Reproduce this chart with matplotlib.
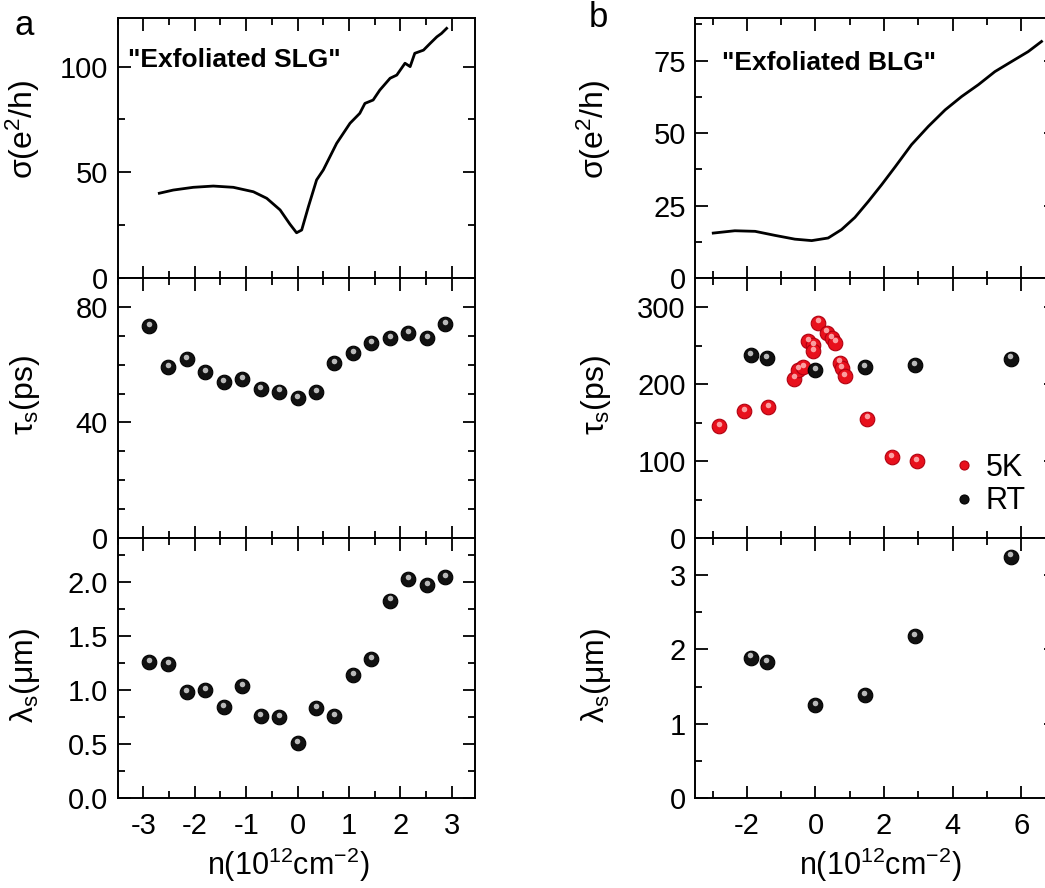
import numpy as np
import matplotlib
matplotlib.use('Agg')
import matplotlib.pyplot as plt
from matplotlib.ticker import MultipleLocator
from matplotlib.transforms import offset_copy

plt.rcParams['font.family'] = ['Liberation Sans', 'DejaVu Sans']
plt.rcParams['mathtext.fontset'] = 'custom'
plt.rcParams['mathtext.rm'] = 'Liberation Sans'
plt.rcParams['mathtext.it'] = 'Liberation Sans:italic'
plt.rcParams['axes.unicode_minus'] = False

# panel a: exfoliated SLG
slg_n = [-2.69, -2.42, -2.03, -1.64, -1.25, -0.86, -0.60, -0.34, -0.15, -0.02, 0.08, 0.21,
         0.37, 0.50, 0.76, 1.02, 1.21, 1.31, 1.47, 1.60, 1.80, 1.93, 2.09, 2.19, 2.28,
         2.45, 2.58, 2.71, 2.80, 2.90]
slg_sigma = [40.1, 41.6, 42.9, 43.5, 42.9, 40.8, 37.7, 32.2, 25.5, 21.4, 22.7, 33.7,
             46.4, 51.1, 63.7, 73.2, 77.9, 82.6, 84.2, 88.9, 94.5, 96.0, 101.6, 100.0, 106.3,
             107.8, 111.0, 114.1, 115.7, 118.1]
slg_pts_n = [-2.89, -2.52, -2.16, -1.80, -1.44, -1.08, -0.72, -0.36, 0.0, 0.36, 0.71,
             1.08, 1.43, 1.80, 2.15, 2.52, 2.87]
slg_tau = [73.4, 59.2, 61.9, 57.4, 53.9, 55.0, 51.6, 50.7, 48.4, 50.4, 60.6,
           64.0, 67.5, 69.2, 70.9, 69.2, 74.0]
slg_lam = [1.26, 1.24, 0.98, 1.00, 0.84, 1.04, 0.76, 0.75, 0.51, 0.83, 0.76,
           1.14, 1.29, 1.83, 2.03, 1.97, 2.05]

# panel b: exfoliated BLG
blg_n = [-2.98, -2.35, -1.76, -1.18, -0.60, -0.11, 0.37, 0.76, 1.15, 1.54, 1.93, 2.32,
         2.80, 3.29, 3.78, 4.26, 4.75, 5.23, 5.72, 6.20, 6.59]
blg_sigma = [15.5, 16.3, 16.1, 14.7, 13.4, 12.9, 13.8, 16.7, 20.9, 26.4, 32.2, 38.3,
             46.0, 52.3, 58.0, 62.6, 66.7, 71.2, 74.7, 78.1, 81.6]
k5_n = [-2.80, -2.08, -1.38, -0.62, -0.50, -0.36, -0.21, -0.06, -0.06, 0.08, 0.33,
        0.47, 0.57, 0.71, 0.76, 0.86, 1.51, 2.22, 2.95]
k5_tau = [145, 165, 170, 207, 219, 222, 256, 251, 243, 280, 267,
          260, 254, 228, 221, 210, 155, 105, 100]
rt_n = [-1.88, -1.42, 0.0, 1.44, 2.90, 5.69]
rt_tau = [238, 234, 218, 222, 225, 233]
rt_lam = [1.89, 1.83, 1.25, 1.38, 2.18, 3.25]

W, H = 1045, 888
fig = plt.figure(figsize=(W / 100, H / 100), dpi=100)


def box(x0, x1, y0, y1):
    return [x0 / W, 1 - y1 / H, (x1 - x0) / W, (y1 - y0) / H]


tops = [18, 278, 538, 798]
axa = [fig.add_axes(box(117.7, 474.9, tops[i], tops[i + 1])) for i in range(3)]
axb = [fig.add_axes(box(695.4, 1055.6, tops[i], tops[i + 1])) for i in range(3)]


def balls(ax, x, y, face, hi, edge, ms=10.5, label=None):
    ax.plot(x, y, 'o', ms=ms, mfc=face, mec=edge, mew=0.8, label=label, zorder=3)
    tr = offset_copy(ax.transData, fig=fig, x=-0.5, y=2.3, units='dots')
    ax.plot(x, y, 'o', ms=ms * 0.38, mfc=hi, mec='none', alpha=0.85,
            transform=tr, zorder=4)


def style(ax, xmaj, xmin, ymaj, ymin, bottom):
    ax.xaxis.set_major_locator(MultipleLocator(xmaj))
    ax.xaxis.set_minor_locator(MultipleLocator(xmin))
    ax.yaxis.set_major_locator(MultipleLocator(ymaj))
    ax.yaxis.set_minor_locator(MultipleLocator(ymin))
    ax.tick_params(which='both', direction='in', top=True, right=True, width=1.3,
                   labelsize=21, labelbottom=bottom)
    ax.tick_params(which='major', length=9)
    ax.tick_params(which='minor', length=5)
    ax.tick_params(axis='y', pad=7)
    ax.tick_params(axis='x', pad=10)
    for s in ax.spines.values():
        s.set_linewidth(1.4)


xlab = r'n(10$^\mathregular{12}$cm$^\mathregular{-2}$)'

# ---- panel a ----
a0, a1, a2 = axa
a0.plot(slg_n, slg_sigma, color='black', lw=2)
a0.set_ylim(0, 123)
a0.text(0.03, 0.81, '"Exfoliated SLG"', transform=a0.transAxes, fontsize=19,
        fontweight='bold', va='baseline')
a0.set_ylabel(r'σ(e$^\mathregular{2}$/h)', fontsize=23)
style(a0, 1, 0.5, 50, 25, False)

balls(a1, slg_pts_n, slg_tau, '#111111', '#d8d8d8', '#000000')
a1.set_ylim(0, 90)
a1.set_ylabel(r'τ$_\mathregular{s}$(ps)', fontsize=23)
style(a1, 1, 0.5, 40, 10, False)

balls(a2, slg_pts_n, slg_lam, '#111111', '#d8d8d8', '#000000')
a2.set_ylim(0, 2.41)
a2.set_ylabel(r'λ$_\mathregular{s}$(μm)', fontsize=23)
a2.yaxis.set_major_formatter(matplotlib.ticker.FormatStrFormatter('%.1f'))
style(a2, 1, 0.5, 0.5, 0.25, True)
a2.set_xlabel(xlab, fontsize=22)

for ax, yl in zip(axa, [0.57, 0.55, 0.47]):
    ax.set_xlim(-3.5, 3.45)
    ax.yaxis.set_label_coords(-0.212, yl)
a2.xaxis.set_label_coords(0.477, -0.185)

# ---- panel b ----
b0, b1, b2 = axb
b0.plot(blg_n, blg_sigma, color='black', lw=2)
b0.set_ylim(0, 89.7)
b0.text(0.073, 0.80, '"Exfoliated BLG"', transform=b0.transAxes, fontsize=19,
        fontweight='bold', va='baseline')
b0.set_ylabel(r'σ(e$^\mathregular{2}$/h)', fontsize=23)
style(b0, 2, 1, 25, 12.5, False)

balls(b1, k5_n, k5_tau, '#e8101c', '#ffb8b8', '#b00010', label='5K')
balls(b1, rt_n, rt_tau, '#111111', '#d8d8d8', '#000000', label='RT')
b1.set_ylim(0, 338)
b1.set_ylabel(r'τ$_\mathregular{s}$(ps)', fontsize=23)
style(b1, 2, 1, 100, 50, False)
b1.legend(loc='lower right', bbox_to_anchor=(0.96, 0.025), frameon=False,
          fontsize=22, markerscale=0.62, handlelength=0.5, handletextpad=0.45,
          labelspacing=0.1, borderpad=0)

balls(b2, rt_n, rt_lam, '#111111', '#d8d8d8', '#000000')
b2.set_ylim(0, 3.5)
b2.set_ylabel(r'λ$_\mathregular{s}$(μm)', fontsize=23)
style(b2, 2, 1, 1, 0.5, True)
b2.set_xlabel(xlab, fontsize=22)

for ax, yl in zip(axb, [0.57, 0.55, 0.47]):
    ax.set_xlim(-3.5, 7)
    ax.yaxis.set_label_coords(-0.229, yl)
b2.xaxis.set_label_coords(0.512, -0.185)

fig.text(15 / W, 1 - 35 / H, 'a', fontsize=25, va='baseline')
fig.text(589 / W, 1 - 27 / H, 'b', fontsize=25, va='baseline')

fig.savefig('out.png', dpi=100)
